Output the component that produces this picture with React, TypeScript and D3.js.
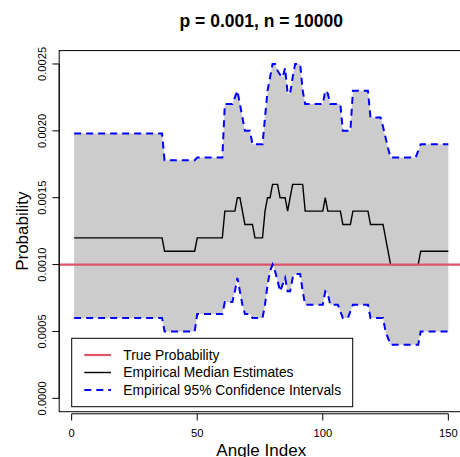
import React from "react";
import * as d3 from "d3";

const upper: number[] = [
  0.00198, 0.00198, 0.00198, 0.00198, 0.00198, 0.00198, 0.00198, 0.00198, 0.00198, 0.00198,
  0.00198, 0.00198, 0.00198, 0.00198, 0.00198, 0.00198, 0.00198, 0.00198, 0.00198, 0.00198,
  0.00198, 0.00198, 0.00198, 0.00198, 0.00198, 0.00198, 0.00198, 0.00198, 0.00198, 0.00198,
  0.00198, 0.00198, 0.00198, 0.00198, 0.00198, 0.00198,
  0.00178, 0.00178, 0.00178, 0.00178, 0.00178, 0.00178, 0.00178, 0.00178, 0.00178, 0.00178,
  0.00178, 0.00178, 0.00178,
  0.0018, 0.0018, 0.0018, 0.0018, 0.0018, 0.0018, 0.0018, 0.0018, 0.0018, 0.0018, 0.0018,
  0.0022, 0.0022, 0.0022, 0.0022, 0.00225, 0.0023, 0.0022, 0.0021,
  0.002, 0.002, 0.002,
  0.0019, 0.0019, 0.0019, 0.0019, 0.0019,
  0.0021, 0.0023, 0.0024, 0.0025, 0.0025, 0.00245, 0.00242, 0.0024, 0.00247, 0.00228, 0.00228, 0.0024,
  0.0025, 0.0025, 0.0025, 0.0023,
  0.0022, 0.0022, 0.0022, 0.0022, 0.0022, 0.0022, 0.0022, 0.0022,
  0.0023, 0.00228,
  0.0022, 0.0022, 0.0022, 0.0022, 0.0022,
  0.002, 0.002, 0.002, 0.002,
  0.0023, 0.0023, 0.0023, 0.0023, 0.0023, 0.0023, 0.0023,
  0.0021, 0.0021, 0.0021, 0.0021, 0.0021,
  0.00203, 0.00195, 0.00187,
  0.0018, 0.0018, 0.0018, 0.0018, 0.0018, 0.0018, 0.0018, 0.0018, 0.0018, 0.0018, 0.0018,
  0.00185,
  0.0019, 0.0019, 0.0019, 0.0019, 0.0019, 0.0019, 0.0019, 0.0019, 0.0019, 0.0019, 0.0019, 0.0019,
];

const median: number[] = [
  0.0012, 0.0012, 0.0012, 0.0012, 0.0012, 0.0012, 0.0012, 0.0012, 0.0012, 0.0012,
  0.0012, 0.0012, 0.0012, 0.0012, 0.0012, 0.0012, 0.0012, 0.0012, 0.0012, 0.0012,
  0.0012, 0.0012, 0.0012, 0.0012, 0.0012, 0.0012, 0.0012, 0.0012, 0.0012, 0.0012,
  0.0012, 0.0012, 0.0012, 0.0012, 0.0012, 0.0012,
  0.0011, 0.0011, 0.0011, 0.0011, 0.0011, 0.0011, 0.0011, 0.0011, 0.0011, 0.0011,
  0.0011, 0.0011, 0.0011,
  0.0012, 0.0012, 0.0012, 0.0012, 0.0012, 0.0012, 0.0012, 0.0012, 0.0012, 0.0012, 0.0012,
  0.0014, 0.0014, 0.0014, 0.0014, 0.0014,
  0.0015, 0.0015, 0.0014,
  0.0013, 0.0013, 0.0013, 0.0013,
  0.0012, 0.0012, 0.0012, 0.0012,
  0.0014, 0.0015, 0.0015, 0.0016, 0.0016, 0.0016, 0.0015, 0.0015, 0.0015, 0.0014, 0.0015,
  0.0016, 0.0016, 0.0016, 0.0016, 0.0016,
  0.0014, 0.0014, 0.0014, 0.0014, 0.0014, 0.0014, 0.0014, 0.0014,
  0.0015,
  0.0014, 0.0014, 0.0014, 0.0014, 0.0014, 0.0014,
  0.0013, 0.0013, 0.0013, 0.0013,
  0.0014, 0.0014, 0.0014, 0.0014, 0.0014, 0.0014, 0.0014,
  0.0013, 0.0013, 0.0013, 0.0013, 0.0013, 0.0013,
  0.0012, 0.0011,
  0.001, 0.001, 0.001, 0.001, 0.001, 0.001, 0.001, 0.001, 0.001, 0.001, 0.001, 0.001,
  0.0011, 0.0011, 0.0011, 0.0011, 0.0011, 0.0011, 0.0011, 0.0011, 0.0011, 0.0011, 0.0011, 0.0011,
];

const lower: number[] = [
  0.0006, 0.0006, 0.0006, 0.0006, 0.0006, 0.0006, 0.0006, 0.0006, 0.0006, 0.0006,
  0.0006, 0.0006, 0.0006, 0.0006, 0.0006, 0.0006, 0.0006, 0.0006, 0.0006, 0.0006,
  0.0006, 0.0006, 0.0006, 0.0006, 0.0006, 0.0006, 0.0006, 0.0006, 0.0006, 0.0006,
  0.0006, 0.0006, 0.0006, 0.0006, 0.0006, 0.0006,
  0.0005, 0.0005, 0.0005, 0.0005, 0.0005, 0.0005, 0.0005, 0.0005, 0.0005, 0.0005,
  0.0005, 0.0005, 0.0005,
  0.00063, 0.00063, 0.00063, 0.00063, 0.00063, 0.00063, 0.00063, 0.00063, 0.00063, 0.00063, 0.00063,
  0.00072, 0.00072, 0.00072, 0.00072,
  0.0008, 0.0009, 0.0008, 0.0007,
  0.00063, 0.00063, 0.00063,
  0.0006, 0.0006, 0.0006, 0.0006, 0.0006,
  0.0007, 0.00085, 0.00095, 0.001, 0.00095, 0.00088, 0.0008, 0.00085, 0.0009, 0.0008, 0.0008, 0.0009,
  0.00093, 0.00093, 0.00093, 0.0008,
  0.0007, 0.0007, 0.0007, 0.0007, 0.0007, 0.0007, 0.0007, 0.0007,
  0.0008, 0.00078,
  0.0007, 0.0007, 0.0007, 0.0007, 0.00065,
  0.0006, 0.0006, 0.0006, 0.00065,
  0.0007, 0.0007, 0.0007, 0.0007, 0.0007, 0.0007, 0.0007,
  0.0006, 0.0006, 0.0006, 0.0006, 0.0006, 0.0006,
  0.0005, 0.00045,
  0.0004, 0.0004, 0.0004, 0.0004, 0.0004, 0.0004, 0.0004, 0.0004, 0.0004, 0.0004, 0.0004, 0.0004,
  0.0005, 0.0005, 0.0005, 0.0005, 0.0005, 0.0005, 0.0005, 0.0005, 0.0005, 0.0005, 0.0005, 0.0005,
];

const trueProb = 0.001;
const xTicks: number[] = [0, 50, 100, 150];
const yTicks: number[] = [0, 0.0005, 0.001, 0.0015, 0.002, 0.0025];
const yTickLabels: string[] = ["0.0000", "0.0005", "0.0010", "0.0015", "0.0020", "0.0025"];
const legendLabels: string[] = [
  "True Probability",
  "Empirical Median Estimates",
  "Empirical 95% Confidence Intervals",
];
const title = "p = 0.001, n = 10000";
const xLabel = "Angle Index";
const yLabel = "Probability";

const FONT = "'Liberation Sans', Arial, Helvetica, sans-serif";
const RED = "#DF536B";

export default function App() {
  const W = 460;
  const H = 457;
  const left = 59.2;
  const right = 463.3;
  const top = 50.6;
  const bottom = 411.7;

  const n = upper.length;
  const idx = d3.range(1, n + 1);
  const pad = 0.04 * (n - 1);
  const x = d3.scaleLinear().domain([1 - pad, n + pad]).range([left, right]);
  const y = d3.scaleLinear().domain([-0.0001, 0.0026]).range([bottom, top]);

  const area = d3
    .area<number>()
    .x((i) => x(idx[i]))
    .y0((i) => y(lower[i]))
    .y1((i) => y(upper[i]));
  const lineOf = (arr: number[]) =>
    d3
      .line<number>()
      .x((i) => x(idx[i]))
      .y((i) => y(arr[i]))(d3.range(n)) as string;

  const legX0 = 71.7;
  const legX1 = 352.7;
  const legY0 = 338.3;
  const legY1 = 406.7;
  const rowYs = [355, 372.5, 390];

  return (
    <svg
      width={W}
      height={H}
      style={{ position: "absolute", left: 0, top: 0, background: "#fff" }}
      fontFamily={FONT}
    >
      <rect x={0} y={0} width={W} height={H} fill="#fff" />
      <path d={area(d3.range(n)) as string} fill="#CCCCCC" stroke="none" />
      <path d={lineOf(median)} fill="none" stroke="#000" strokeWidth={1.4} />
      <line
        x1={left}
        x2={right}
        y1={y(trueProb)}
        y2={y(trueProb)}
        stroke={RED}
        strokeWidth={2.2}
      />
      <path d={lineOf(upper)} fill="none" stroke="#0000FF" strokeWidth={2} strokeDasharray="7,5" />
      <path d={lineOf(lower)} fill="none" stroke="#0000FF" strokeWidth={2} strokeDasharray="7,5" />

      {/* box */}
      <rect x={left} y={top} width={right - left} height={bottom - top} fill="none" stroke="#000" strokeWidth={1} />

      {/* x axis */}
      <line x1={x(xTicks[0])} x2={x(xTicks[xTicks.length - 1])} y1={413.8} y2={413.8} stroke="#000" />
      {xTicks.map((t) => (
        <g key={t}>
          <line x1={x(t)} x2={x(t)} y1={413.8} y2={420.5} stroke="#000" />
          <text x={x(t)} y={437} textAnchor="middle" fontSize={11.2} fill="#000">
            {t}
          </text>
        </g>
      ))}

      {/* y axis */}
      <line x1={left} x2={left} y1={y(yTicks[0])} y2={y(yTicks[yTicks.length - 1])} stroke="#000" />
      {yTicks.map((t, i) => (
        <g key={t}>
          <line x1={left - 6.8} x2={left} y1={y(t)} y2={y(t)} stroke="#000" />
          <text
            transform={`translate(45.5,${y(t)}) rotate(-90)`}
            textAnchor="middle"
            fontSize={11.2}
            fill="#000"
          >
            {yTickLabels[i]}
          </text>
        </g>
      ))}

      {/* titles */}
      <text x={(left + right) / 2} y={27} textAnchor="middle" fontSize={17.5} fontWeight="bold" fill="#000">
        {title}
      </text>
      <text x={(left + right) / 2} y={455.5} textAnchor="middle" fontSize={17} fill="#000">
        {xLabel}
      </text>
      <text
        transform={`translate(28,${(top + bottom) / 2}) rotate(-90)`}
        textAnchor="middle"
        fontSize={17}
        fill="#000"
      >
        {yLabel}
      </text>

      {/* legend */}
      <rect x={legX0} y={legY0} width={legX1 - legX0} height={legY1 - legY0} fill="#fff" stroke="#000" strokeWidth={1} />
      <line x1={84.3} x2={111} y1={rowYs[0]} y2={rowYs[0]} stroke={RED} strokeWidth={2.2} />
      <line x1={84.3} x2={111} y1={rowYs[1]} y2={rowYs[1]} stroke="#000" strokeWidth={1.4} />
      <line x1={84.3} x2={111} y1={rowYs[2]} y2={rowYs[2]} stroke="#0000FF" strokeWidth={2} strokeDasharray="7,5" />
      {legendLabels.map((l, i) => (
        <text key={l} x={123.3} y={rowYs[i] + 4.9} fontSize={13.8} fill="#000">
          {l}
        </text>
      ))}
    </svg>
  );
}
